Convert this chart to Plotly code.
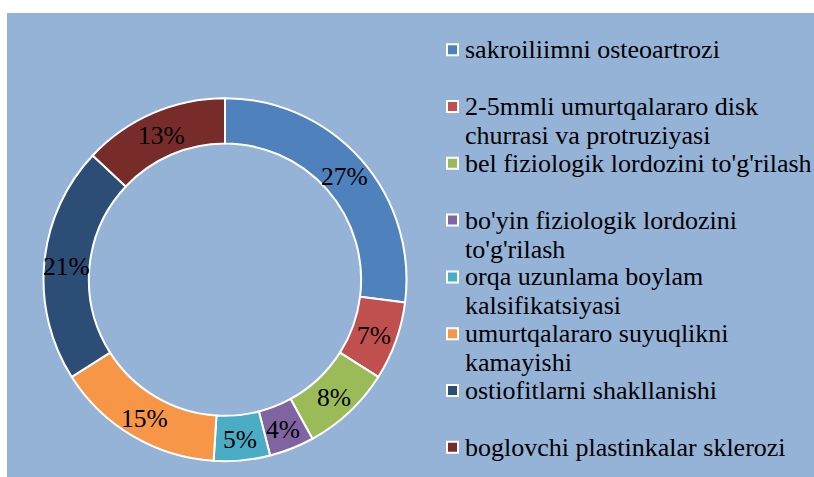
import math
import plotly.graph_objects as go

# ---------------- data ----------------
legend_lines = [
    ["sakroiliimni osteoartrozi"],
    ["2-5mmli umurtqalararo disk", "churrasi va protruziyasi"],
    ["bel fiziologik lordozini to'g'rilash"],
    ["bo'yin fiziologik lordozini", "to'g'rilash"],
    ["orqa uzunlama boylam", "kalsifikatsiyasi"],
    ["umurtqalararo suyuqlikni", "kamayishi"],
    ["ostiofitlarni shakllanishi"],
    ["boglovchi plastinkalar sklerozi"],
]
labels = [" ".join(l) for l in legend_lines]
values = [27, 7, 8, 4, 5, 15, 21, 13]
colors = ["#4F81BD", "#C0504D", "#9BBB59", "#8064A2",
          "#4BACC6", "#F79646", "#2C4D75", "#772C2A"]

# ---------------- layout constants ----------------
W, H = 814, 477
ML, MT, MR, MB = 7, 13, 0, 0
PW, PH = W - ML - MR, H - MT - MB
BG = "#95B3D7"
FONT = "Liberation Serif, Times New Roman, serif"
FS_PCT = 25.5
FS_LEG = 26

CX, CY, R = 225.0, 279.7, 181.5   # donut centre / radius in px
HOLE = 0.75


def px2paper(x, y):
    return (x - ML) / PW, (H - MB - y) / PH


dx0, dy1 = px2paper(CX - R, CY - R)
dx1, dy0 = px2paper(CX + R, CY + R)

fig = go.Figure()
fig.add_trace(go.Pie(
    labels=labels, values=values, sort=False, direction="clockwise",
    rotation=0, hole=HOLE, textinfo="none",
    marker=dict(colors=colors, line=dict(color="white", width=2)),
    domain=dict(x=[dx0, dx1], y=[dy0, dy1]),
    showlegend=False, hoverinfo="label+percent",
))

annotations = []
shapes = [dict(type="rect", xref="paper", yref="paper", x0=0, x1=1, y0=0, y1=1,
               fillcolor=BG, line=dict(width=0), layer="below")]

# percentage labels at slice mid-angles
total = sum(values)
cum = 0.0
rmid = R * (1 + HOLE) / 2
for v in values:
    ang = (cum + v / 2) / total * 2 * math.pi
    cum += v
    x, y = px2paper(CX + rmid * math.sin(ang), CY - rmid * math.cos(ang) + 2)
    annotations.append(dict(
        x=x, y=y, xref="paper", yref="paper", text=f"{round(v / total * 100)}%",
        showarrow=False, xanchor="center", yanchor="middle",
        font=dict(family=FONT, size=FS_PCT, color="black")))

# legend (manual, to match slot layout)
LEG_X_TEXT = 463
LEG_BASE0 = 58.3
LEG_STEP = 56.8
LEG_LINE = 29.0
BASE_OFF = 8.6
for i, (lines, c) in enumerate(zip(legend_lines, colors)):
    base = LEG_BASE0 + LEG_STEP * i
    for j, t in enumerate(lines):
        x, y = px2paper(LEG_X_TEXT, base + LEG_LINE * j - BASE_OFF)
        annotations.append(dict(
            x=x, y=y, xref="paper", yref="paper", text=t, showarrow=False,
            xanchor="left", yanchor="middle",
            font=dict(family=FONT, size=FS_LEG, color="black")))
    cy = base - BASE_OFF
    sx0, sy0 = px2paper(447, cy + 5.5)
    sx1, sy1 = px2paper(458, cy - 5.5)
    shapes.append(dict(type="rect", xref="paper", yref="paper",
                       x0=sx0, x1=sx1, y0=sy0, y1=sy1,
                       fillcolor=c, line=dict(color="white", width=2)))

fig.update_layout(
    width=W, height=H,
    margin=dict(l=ML, r=MR, t=MT, b=MB, pad=0),
    paper_bgcolor="white", plot_bgcolor="rgba(0,0,0,0)",
    annotations=annotations, shapes=shapes,
    font=dict(family=FONT, size=FS_LEG, color="black"),
)

fig.write_html(
    "out.html",
    config={"displayModeBar": False},
    post_script="document.body.style.margin='0';document.body.style.padding='0';",
)
